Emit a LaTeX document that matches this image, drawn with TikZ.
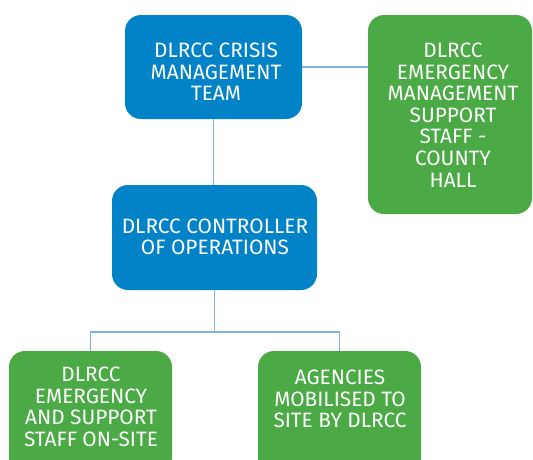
\documentclass[tikz,border=0pt]{standalone}
\usepackage{fontspec}
\setmainfont{Fira Sans}
\definecolor{boxblue}{RGB}{2,131,200}
\definecolor{boxgreen}{RGB}{75,170,70}
\definecolor{linkblue}{RGB}{125,178,225}
\tikzset{
  card/.style={draw=none, rounded corners=16pt, inner sep=0pt},
  bluecard/.style={card, fill=boxblue},
  greencard/.style={card, fill=boxgreen},
  label/.style={text=white, align=center, inner sep=0pt, font=\fontsize{20.8}{21.6}\selectfont},
  link/.style={draw=linkblue, line width=1.4pt}
}
\begin{document}
\begin{tikzpicture}[x=1pt, y=-1pt]
\useasboundingbox (0,0) rectangle (533,459);
\clip (0,0) rectangle (533,459);
% boxes
\node[bluecard, minimum width=177pt, minimum height=104pt] (a) at (213.5,67) {};
\node[greencard, minimum width=164pt, minimum height=199pt] (b) at (450,114.5) {};
\node[bluecard, minimum width=205pt, minimum height=105pt] (c) at (214.5,237.5) {};
\node[greencard, minimum width=163pt, minimum height=124pt] (d) at (90.5,413) {};
\node[greencard, minimum width=163pt, minimum height=124pt] (e) at (339.5,413) {};
% texts
\node[label] (ta) at (216,72) {DLRCC CRISIS\\MANAGEMENT\\TEAM};
\node[label] (tb) at (453,115) {DLRCC\\EMERGENCY\\MANAGEMENT\\SUPPORT\\STAFF -\\COUNTY\\HALL};
\node[label] (tc) at (215,237) {DLRCC CONTROLLER\\OF OPERATIONS};
\node[label] (td) at (91,407) {DLRCC\\EMERGENCY\\AND SUPPORT\\STAFF ON-SITE};
\node[label] (te) at (340,399) {AGENCIES\\MOBILISED TO\\SITE BY DLRCC};
% connectors
\coordinate (bus) at (214.5,332);
\draw[link] (a.east) -- (a.east -| b.west);
\draw[link] (a.south) -- (a.south |- c.north);
\draw[link] (c.south) -- (c.south |- bus);
\draw[link] (d.north) |- (bus) -| (e.north);
\end{tikzpicture}
\end{document}
